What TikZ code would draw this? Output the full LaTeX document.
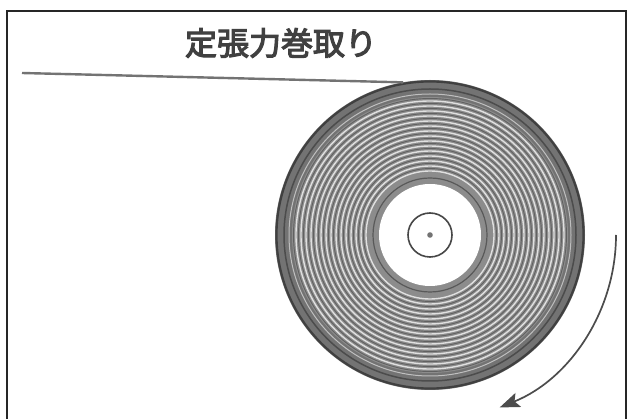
\documentclass[tikz,border=0pt]{standalone}
\usepackage{fontspec}
\newfontfamily\cjk[FakeBold=3.5]{Noto Sans CJK JP}
\usetikzlibrary{arrows.meta,calc}
\begin{document}
\begin{tikzpicture}[x=1pt,y=-1pt,
  framebox/.style={line width=2pt,black!85},
  web/.style={line width=2.4pt,black!55},
  rollring/.style={line width=#1,black!12},
  rollgroove/.style={line width=#1,black!62},
  turnarrow/.style={line width=1.7pt,black!70,-{Stealth[length=20pt,width=15pt,inset=4pt]}},
  titletext/.style={font=\cjk\fontsize{32}{32}\selectfont,text=black!75}]
\useasboundingbox (0,0) rectangle (627,419);
% open frame
\draw[framebox] (7,422) -- (7,11) -- (626,11) -- (626,422);
% title
\node[titletext] (title) at (281,43) {定張力巻取り};
% roll of wound material
\coordinate (c) at (430,235);
\fill[black!55] (c) circle[radius=155];
\fill[black!45] (c) circle[radius=138];
\foreach \r in {64,69,...,134} {
  \draw[rollring=1.4pt] (c) circle[radius=\r];
  \draw[rollgroove=0.9pt] (c) circle[radius=\r+2.5];
}
\draw[line width=2.2pt,black!75] (c) circle[radius=153.5];
\draw[line width=1.5pt,black!70] (c) circle[radius=146];
\draw[line width=1pt,black!25] (c) circle[radius=141];
\draw[line width=1.2pt,black!65] (c) circle[radius=57];
% core
\fill[white] (c) circle[radius=51];
\draw[line width=1.6pt,black!72] (c) circle[radius=22];
\fill[black!55] (c) circle[radius=2.8];
% incoming web
\coordinate (webstart) at (22,73);
\coordinate (webend) at ($(c)+(-100:155)$);
\draw[web] (webstart) -- (webend);
% winding direction
\coordinate (arcstart) at ($(c)+(0:186)$);
\draw[turnarrow] (arcstart) arc[start angle=0,end angle=68,radius=186];
\end{tikzpicture}
\end{document}
